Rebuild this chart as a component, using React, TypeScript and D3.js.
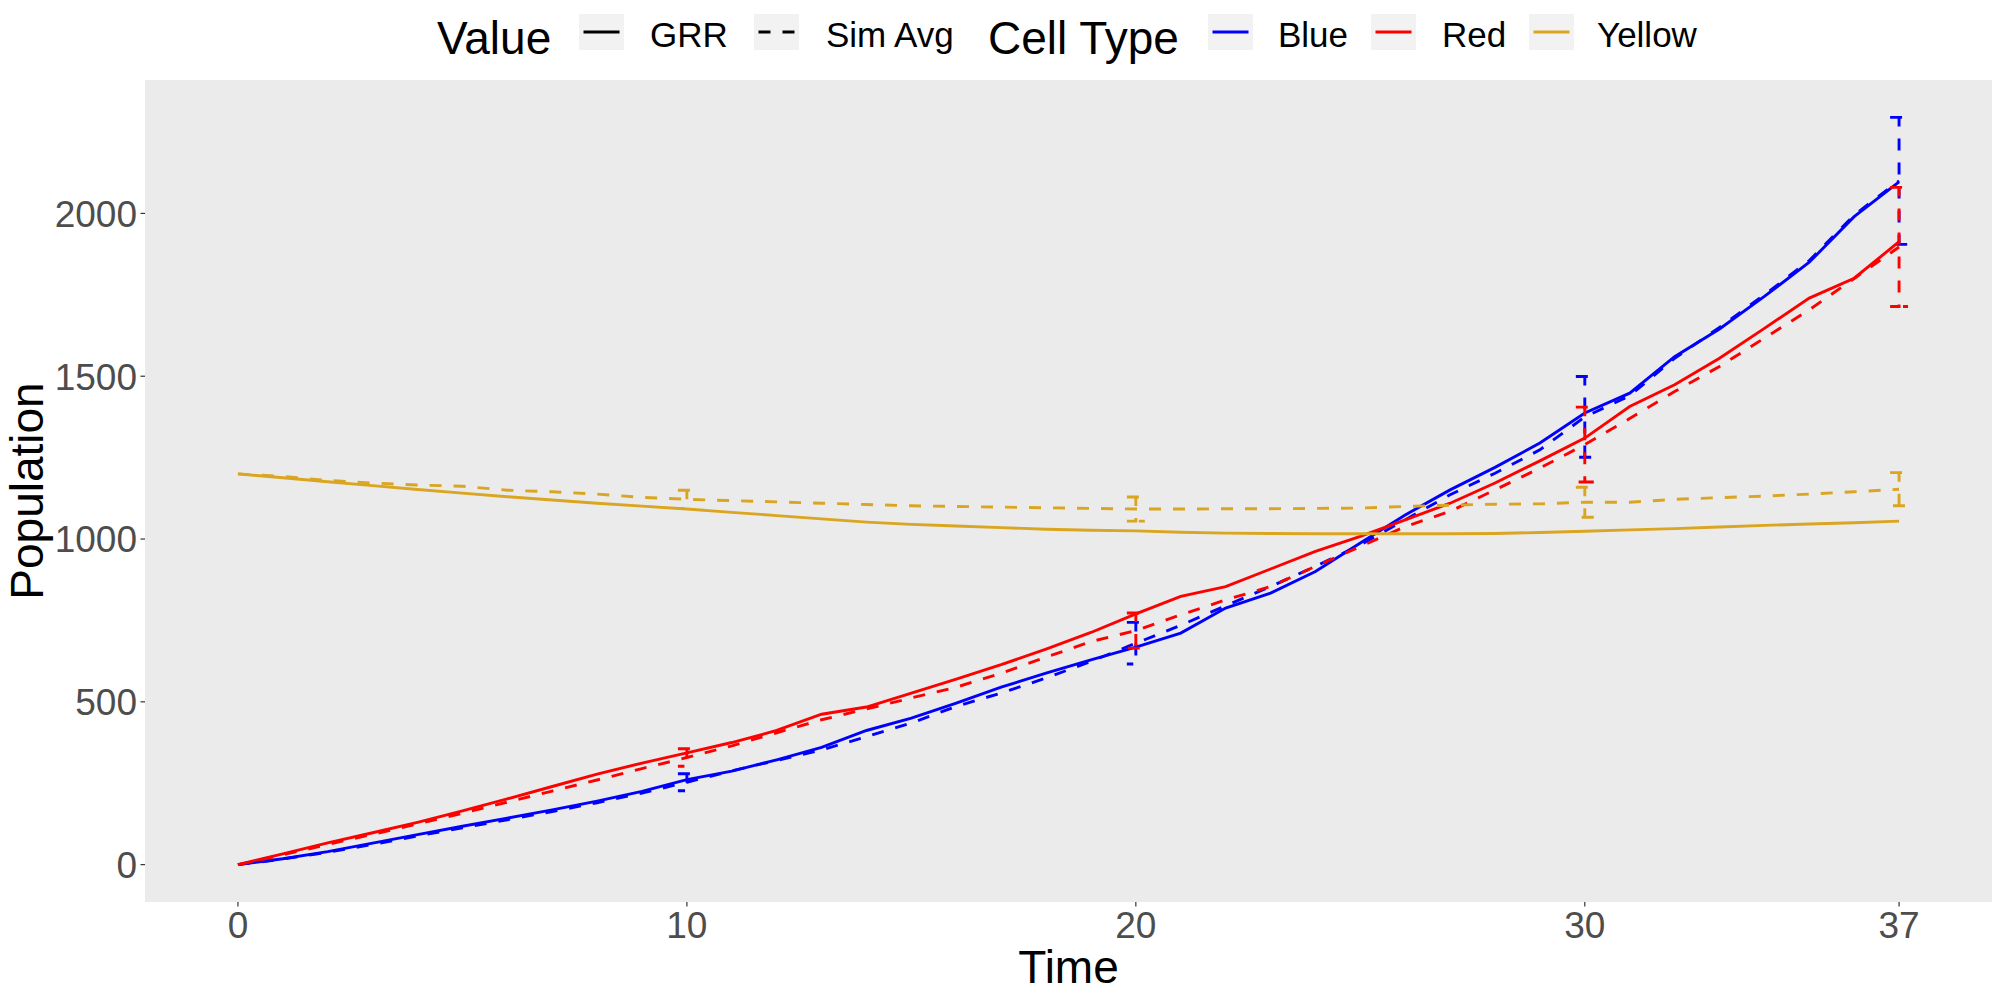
import * as d3 from 'd3';

const W = 2000;
const H = 1000;
const FONT = "'Liberation Sans', Arial, sans-serif";

// panel box (pixels)
const PANEL = { left: 145, right: 1992, top: 80, bottom: 902 };

const times = [
  0, 1, 2, 3, 4, 5, 6, 7, 8, 9, 10, 11, 12, 13, 14, 15, 16, 17, 18, 19, 20, 21,
  22, 23, 24, 25, 26, 27, 28, 29, 30, 31, 32, 33, 34, 35, 36, 37,
];

const blueGRR = [
  0, 18, 40, 66, 92, 118, 143, 168, 195, 225, 261, 287, 322, 360, 412, 450, 496,
  545, 588, 629, 668, 711, 788, 834, 900, 988, 1074, 1151, 1220, 1295, 1387,
  1448, 1560, 1645, 1745, 1850, 1990, 2097,
];
const blueSim = [
  0, 17, 38, 62, 88, 113, 138, 163, 190, 220, 253, 288, 320, 352, 393, 435, 486,
  527, 573, 624, 680, 735, 795, 854, 916, 982, 1059, 1136, 1202, 1274, 1375,
  1440, 1555, 1650, 1750, 1855, 1995, 2100,
];
const redGRR = [
  0, 33, 67, 98, 130, 165, 202, 240, 278, 312, 343, 375, 412, 462, 484, 527, 570,
  614, 662, 713, 770, 824, 854, 908, 962, 1008, 1059, 1110, 1172, 1240, 1310,
  1407, 1474, 1555, 1647, 1740, 1801, 1913,
];
const redSim = [
  0, 30, 62, 93, 125, 158, 192, 226, 260, 295, 329, 365, 405, 445, 478, 512, 545,
  588, 637, 685, 719, 767, 813, 854, 916, 977, 1038, 1085, 1151, 1218, 1290,
  1370, 1453, 1530, 1617, 1704, 1800, 1897,
];
const yellowGRR = [
  1200, 1188, 1176, 1164, 1152, 1141, 1130, 1120, 1110, 1101, 1092, 1082, 1072,
  1062, 1052, 1045, 1040, 1035, 1030, 1027, 1025, 1021, 1018, 1017, 1016, 1016,
  1016, 1016, 1017, 1020, 1024, 1028, 1032, 1037, 1042, 1046, 1050, 1055,
];
const yellowSim = [
  1200, 1192, 1180, 1172, 1166, 1162, 1150, 1145, 1138, 1128, 1122, 1118, 1114,
  1110, 1106, 1102, 1100, 1098, 1096, 1094, 1092, 1092, 1093, 1093, 1094, 1095,
  1100, 1104, 1107, 1108, 1113, 1113, 1122, 1127, 1132, 1138, 1145, 1153,
];

// error bars (sd of the simulations) at these times
const errTimes = [10, 20, 30, 37];
const blueErr = [26, 64, 124, 195];
const redErr = [27, 54, 115, 183];
const yellowErr = [28, 37, 46, 51];

const xTicks = [0, 10, 20, 30, 37];
const yTicks = [0, 500, 1000, 1500, 2000];

const cellTypes = ['Blue', 'Red', 'Yellow'];
const cellColors = ['#0000ff', '#ff0000', '#daa520'];
const valueTypes = ['GRR', 'Sim Avg'];

const ERR_WIDTH = 0.4;
const LW = 2.9;
const DASH = '12 12';

const series = [
  { type: 0, grr: blueGRR, sim: blueSim, err: blueErr },
  { type: 1, grr: redGRR, sim: redSim, err: redErr },
  { type: 2, grr: yellowGRR, sim: yellowSim, err: yellowErr },
];

export default function App() {
  // ggplot style 5% expansion around the data range
  const xMin = -ERR_WIDTH / 2;
  const xMax = 37 + ERR_WIDTH / 2;
  const xPad = (xMax - xMin) * 0.05;
  const x = d3
    .scaleLinear()
    .domain([xMin - xPad, xMax + xPad])
    .range([PANEL.left, PANEL.right]);

  const yMax = d3.max(series.flatMap((s) => errTimes.map((t, i) => s.sim[times.indexOf(t)] + s.err[i]))) ?? 0;
  const yPad = yMax * 0.05;
  const y = d3
    .scaleLinear()
    .domain([-yPad, yMax + yPad])
    .range([PANEL.bottom, PANEL.top]);

  const line = d3
    .line<number>()
    .x((_, i) => x(times[i]))
    .y((d) => y(d));

  const errPath = (t: number, lo: number, hi: number) => {
    const a = x(t - ERR_WIDTH / 2);
    const b = x(t + ERR_WIDTH / 2);
    const c = x(t);
    return `M${a},${y(hi)}L${b},${y(hi)}L${c},${y(hi)}L${c},${y(lo)}L${a},${y(lo)}L${b},${y(lo)}`;
  };

  // legend layout (pixels)
  const keyY = 14;
  const keyH = 36;
  const keyW = 45;
  const valueKeys = [579, 754];
  const valueLabels = [650, 826];
  const cellKeys = [1208, 1371, 1529];
  const cellLabels = [1278, 1442, 1597];

  return (
    <svg
      width={W}
      height={H}
      style={{ position: 'absolute', left: 0, top: 0, background: '#fff' }}
      fontFamily={FONT}
    >
      <rect
        x={PANEL.left}
        y={PANEL.top}
        width={PANEL.right - PANEL.left}
        height={PANEL.bottom - PANEL.top}
        fill="#ebebeb"
      />

      {/* lines */}
      {series.map((s) => (
        <g key={cellTypes[s.type]} fill="none" stroke={cellColors[s.type]} strokeWidth={LW}>
          <path d={line(s.grr) ?? ''} />
          <path d={line(s.sim) ?? ''} strokeDasharray={DASH} />
          {errTimes.map((t, i) => {
            const m = s.sim[times.indexOf(t)];
            return <path key={t} d={errPath(t, m - s.err[i], m + s.err[i])} strokeDasharray={DASH} />;
          })}
        </g>
      ))}

      {/* y axis */}
      {yTicks.map((t) => (
        <g key={t}>
          <line x1={PANEL.left - 4.5} x2={PANEL.left} y1={y(t)} y2={y(t)} stroke="#333" strokeWidth={1.2} />
          <text x={137} y={y(t) + 13.3} textAnchor="end" fontSize={37} fill="#4d4d4d">
            {t}
          </text>
        </g>
      ))}

      {/* x axis */}
      {xTicks.map((t) => (
        <g key={t}>
          <line x1={x(t)} x2={x(t)} y1={PANEL.bottom} y2={PANEL.bottom + 4.5} stroke="#333" strokeWidth={1.2} />
          <text x={x(t)} y={938.3} textAnchor="middle" fontSize={37} fill="#4d4d4d">
            {t}
          </text>
        </g>
      ))}

      <text x={(PANEL.left + PANEL.right) / 2} y={983.3} textAnchor="middle" fontSize={46}>
        Time
      </text>
      <text
        transform={`translate(43.3, ${(PANEL.top + PANEL.bottom) / 2}) rotate(-90)`}
        textAnchor="middle"
        fontSize={46}
      >
        Population
      </text>

      {/* legend */}
      <text x={437} y={53.7} fontSize={46}>
        Value
      </text>
      {valueTypes.map((v, i) => (
        <g key={v}>
          <rect x={valueKeys[i]} y={keyY} width={keyW} height={keyH} fill="#f2f2f2" />
          <line
            x1={valueKeys[i] + 4.5}
            x2={valueKeys[i] + keyW - 4.5}
            y1={keyY + keyH / 2}
            y2={keyY + keyH / 2}
            stroke="#000"
            strokeWidth={LW}
            strokeDasharray={i === 1 ? DASH : undefined}
          />
          <text x={valueLabels[i]} y={46.7} fontSize={35}>
            {v}
          </text>
        </g>
      ))}
      <text x={988} y={53.7} fontSize={46}>
        Cell Type
      </text>
      {cellTypes.map((c, i) => (
        <g key={c}>
          <rect x={cellKeys[i]} y={keyY} width={keyW} height={keyH} fill="#f2f2f2" />
          <line
            x1={cellKeys[i] + 4.5}
            x2={cellKeys[i] + keyW - 4.5}
            y1={keyY + keyH / 2}
            y2={keyY + keyH / 2}
            stroke={cellColors[i]}
            strokeWidth={LW}
          />
          <text x={cellLabels[i]} y={46.7} fontSize={35}>
            {c}
          </text>
        </g>
      ))}
    </svg>
  );
}
